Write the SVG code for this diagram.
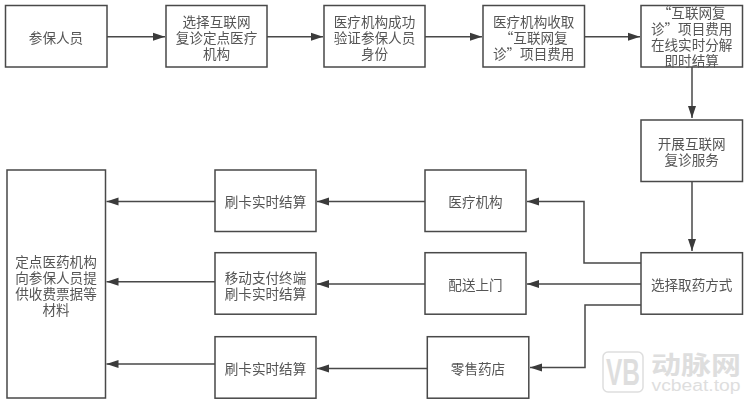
<svg xmlns="http://www.w3.org/2000/svg" width="750" height="402" viewBox="0 0 750 402">
<style>
.b{fill:#fff;stroke:#484848;stroke-width:1.5}
.t{font-family:"Noto Sans CJK SC","Liberation Sans",sans-serif;font-size:13.6px;fill:#555;text-anchor:middle}
.c path{fill:none;stroke:#484848;stroke-width:1.5;marker-end:url(#a)}
.w{font-family:"Noto Sans CJK SC","Liberation Sans",sans-serif;fill:#dedede}
</style>
<defs>
<marker id="a" markerUnits="userSpaceOnUse" markerWidth="13" markerHeight="10" refX="12" refY="5" orient="auto"><path d="M0 1 L12 5 L0 9 Z" fill="#3a3a3a"/></marker>
<filter id="s" x="-2%" y="-2%" width="104%" height="104%"><feGaussianBlur stdDeviation="0.35"/></filter>
</defs>
<rect width="750" height="402" fill="#fff"/>
<g filter="url(#s)">
<g id="connectors" class="c">
<path d="M107 36.700H165"/>
<path d="M267 36.700H323"/>
<path d="M425 36.700H482"/>
<path d="M585 36.700H640"/>
<path d="M692 67V118"/>
<path d="M692 181V251"/>
<path d="M641 263H584V201.500H527"/>
<path d="M641 284H527"/>
<path d="M641 305H585V367.500H530"/>
<path d="M425 201.500H317"/>
<path d="M425 284H317"/>
<path d="M427 368.500H317"/>
<path d="M215 201.500H106.500"/>
<path d="M215 281.700H106.500"/>
<path d="M215 364H106.500"/>
</g>
<g id="n1"><rect class="b" x="5.500" y="5.500" width="101.500" height="61.500"/><text class="t" x="56" y="42.500">参保人员</text></g>
<g id="n2"><rect class="b" x="166" y="5.500" width="101" height="61.500"/><text class="t" x="216.500" y="26.500">选择互联网</text><text class="t" x="216.500" y="42.500">复诊定点医疗</text><text class="t" x="216.500" y="58.500">机构</text></g>
<g id="n3"><rect class="b" x="324" y="5.500" width="101" height="61.500"/><text class="t" x="374.500" y="26.500">医疗机构成功</text><text class="t" x="374.500" y="42.500">验证参保人员</text><text class="t" x="374.500" y="58.500">身份</text></g>
<g id="n4"><rect class="b" x="483" y="5.500" width="101.500" height="61.500"/><text class="t" x="533.700" y="26.500">医疗机构收取</text><text class="t" x="533.700" y="42.500">“互联网复</text><text class="t" x="533.700" y="58.500">诊”项目费用</text></g>
<g id="n5"><rect class="b" x="641" y="5.500" width="101.500" height="61.500"/><text class="t" x="691.700" y="18">“互联网复</text><text class="t" x="691.700" y="34">诊”项目费用</text><text class="t" x="691.700" y="50">在线实时分解</text><text class="t" x="691.700" y="66">即时结算</text></g>
<g id="n6"><rect class="b" x="641" y="120" width="101.500" height="61.500"/><text class="t" x="691.700" y="148.500">开展互联网</text><text class="t" x="691.700" y="164.500">复诊服务</text></g>
<g id="n7"><rect class="b" x="641" y="252.700" width="101.500" height="61.500"/><text class="t" x="691.700" y="289.500">选择取药方式</text></g>
<g id="n8"><rect class="b" x="425" y="170" width="101" height="61.500"/><text class="t" x="475.500" y="206.500">医疗机构</text></g>
<g id="n9"><rect class="b" x="425" y="252.700" width="101" height="61.500"/><text class="t" x="475.500" y="289.500">配送上门</text></g>
<g id="n10"><rect class="b" x="427.300" y="336.700" width="101.500" height="61.500"/><text class="t" x="478" y="373.500">零售药店</text></g>
<g id="n11"><rect class="b" x="215" y="170" width="101" height="61.500"/><text class="t" x="265.500" y="206.500">刷卡实时结算</text></g>
<g id="n12"><rect class="b" x="215" y="252.700" width="101" height="61.500"/><text class="t" x="265.500" y="282.500">移动支付终端</text><text class="t" x="265.500" y="298.500">刷卡实时结算</text></g>
<g id="n13"><rect class="b" x="215" y="336.700" width="101" height="61.500"/><text class="t" x="265.500" y="373.500">刷卡实时结算</text></g>
<g id="n14"><rect class="b" x="7" y="170" width="98.500" height="228"/><text class="t" x="56" y="266.500">定点医药机构</text><text class="t" x="56" y="282.500">向参保人员提</text><text class="t" x="56" y="298.500">供收费票据等</text><text class="t" x="56" y="314.500">材料</text></g>
</g>
<g id="watermark">
<rect x="603" y="352" width="40" height="40" rx="5" fill="none" stroke="#dedede" stroke-width="1.500"/>
<text class="w" x="606" y="385" font-size="36" font-weight="700" style="font-family:'Liberation Sans',sans-serif" textLength="34" lengthAdjust="spacingAndGlyphs">VB</text>
<text class="w" x="651" y="374" font-size="25" font-weight="700" textLength="90" lengthAdjust="spacingAndGlyphs">动脉网</text>
<text class="w" x="651.500" y="391" font-size="16" style="font-family:'Liberation Sans',sans-serif" textLength="89" lengthAdjust="spacingAndGlyphs">vcbeat.top</text>
</g>
</svg>
